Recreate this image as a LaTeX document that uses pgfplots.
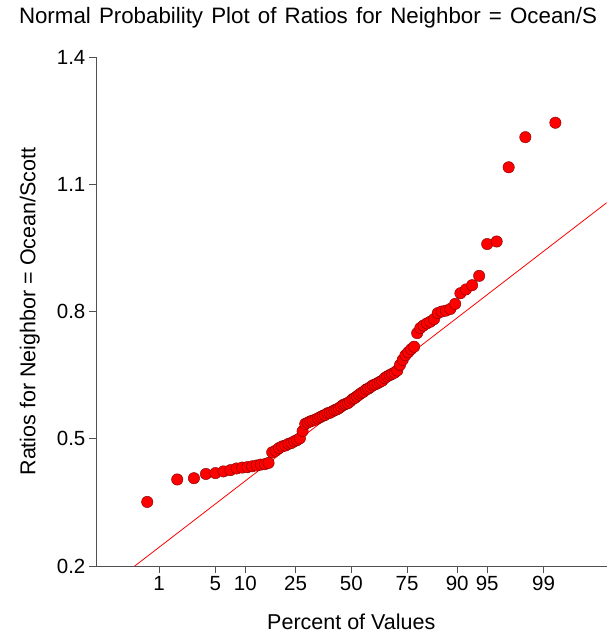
\documentclass[border=0pt]{standalone}
\usepackage{fontspec}
\setmainfont{Liberation Sans}
\usepackage{pgfplots}
\pgfplotsset{compat=1.18}
\definecolor{axgray}{RGB}{80,80,80}
\definecolor{mkedge}{RGB}{120,0,0}
\newcommand{\chartfont}{\fontsize{20.5bp}{24bp}\selectfont}
\newcommand{\labelfont}{\fontsize{21.5bp}{25bp}\selectfont}
\newcommand{\titlefont}{\fontsize{22.3bp}{26bp}\selectfont}
\begin{document}
\begin{tikzpicture}[font=\chartfont]
\path[use as bounding box] (0,0) rectangle (609bp,639bp);
\node[anchor=center] at (308bp,621bp) {\titlefont\makebox[578bp][s]{Normal Probability Plot of Ratios for Neighbor = Ocean/S}};
\begin{axis}[
  at={(95.9bp,73bp)}, anchor=south west,
  width=510.8bp, height=509bp, scale only axis,
  xmin=-3.0902, xmax=3.0902,
  ymin=0.2, ymax=1.4,
  axis lines=left,
  axis line style={-, axgray, line width=0.8bp},
  tick align=outside,
  major tick length=7bp,
  tick style={axgray, line width=0.8bp},
  xtick={-2.3263,-1.6449,-1.2816,-0.6745,0,0.6745,1.2816,1.6449,2.3263},
  xticklabels={1,5,10,25,50,75,90,95,99},
  ytick={0.2,0.5,0.8,1.1,1.4},
  yticklabel style={/pgf/number format/.cd, fixed, fixed zerofill, precision=1, assume math mode=true},
  ticklabel style={font=\chartfont},
  label style={font=\labelfont},
  xlabel={Percent of Values},
  ylabel={Ratios for Neighbor = Ocean/Scott},
  xlabel style={at={(axis description cs:0.5,-0.110)}, anchor=center},
  ylabel style={at={(axis description cs:-0.1292,0.5)}, anchor=center},
  clip=true,
]
\addplot[red, line width=0.8bp, forget plot] coordinates {(-3.0902,0.1295) (3.0902,1.0565)};
\addplot[only marks, mark=*, mark size=5.7bp, mark options={fill=red, draw=mkedge, line width=0.4bp}] table {
z y
-2.469 0.351
-2.106 0.404
-1.904 0.407
-1.759 0.417
-1.644 0.419
-1.547 0.423
-1.462 0.426
-1.387 0.430
-1.320 0.432
-1.257 0.433
-1.199 0.435
-1.145 0.437
-1.095 0.439
-1.046 0.440
-1.001 0.443
-0.957 0.468
-0.915 0.472
-0.874 0.478
-0.835 0.482
-0.797 0.484
-0.760 0.488
-0.724 0.490
-0.689 0.494
-0.655 0.497
-0.622 0.501
-0.589 0.518
-0.557 0.535
-0.526 0.538
-0.495 0.541
-0.465 0.543
-0.434 0.545
-0.405 0.548
-0.375 0.551
-0.346 0.554
-0.318 0.556
-0.289 0.560
-0.261 0.561
-0.233 0.564
-0.205 0.567
-0.178 0.569
-0.150 0.572
-0.123 0.576
-0.095 0.580
-0.068 0.582
-0.041 0.584
-0.014 0.588
0.014 0.593
0.041 0.596
0.068 0.600
0.095 0.604
0.123 0.608
0.150 0.611
0.178 0.616
0.205 0.618
0.233 0.622
0.261 0.626
0.289 0.628
0.318 0.631
0.346 0.634
0.375 0.637
0.405 0.643
0.434 0.647
0.465 0.650
0.495 0.653
0.526 0.656
0.557 0.661
0.589 0.674
0.622 0.686
0.655 0.697
0.689 0.704
0.724 0.711
0.760 0.717
0.797 0.749
0.835 0.761
0.874 0.767
0.915 0.772
0.957 0.776
1.001 0.782
1.046 0.796
1.095 0.800
1.145 0.802
1.199 0.806
1.257 0.818
1.320 0.843
1.387 0.852
1.462 0.862
1.547 0.884
1.644 0.959
1.759 0.965
1.904 1.140
2.106 1.211
2.469 1.245
};
\end{axis}
\end{tikzpicture}
\end{document}
